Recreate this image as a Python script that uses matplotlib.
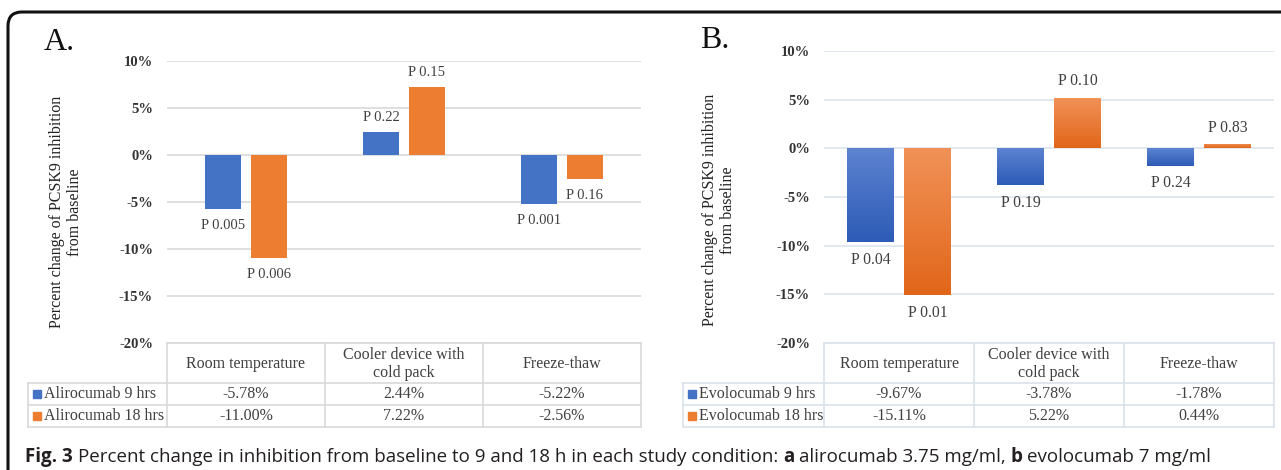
import matplotlib
matplotlib.use("Agg")
import matplotlib.pyplot as plt
import numpy as np
from matplotlib.patches import FancyBboxPatch
from matplotlib.transforms import IdentityTransform
from matplotlib.ticker import FuncFormatter

# data
conditions = ["Room temperature", "Cooler device with\ncold pack", "Freeze-thaw"]
aliro_9 = [-5.78, 2.44, -5.22]
aliro_18 = [-11.00, 7.22, -2.56]
aliro_p9 = ["P 0.005", "P 0.22", "P 0.001"]
aliro_p18 = ["P 0.006", "P 0.15", "P 0.16"]
evolo_9 = [-9.67, -3.78, -1.78]
evolo_18 = [-15.11, 5.22, 0.44]
evolo_p9 = ["P 0.04", "P 0.19", "P 0.24"]
evolo_p18 = ["P 0.01", "P 0.10", "P 0.83"]
series_a = ["Alirocumab 9 hrs", "Alirocumab 18 hrs"]
series_b = ["Evolocumab 9 hrs", "Evolocumab 18 hrs"]
yticks = [-20, -15, -10, -5, 0, 5, 10]
caption = [("Fig. 3", "bold"),
           ("Percent change in inhibition from baseline to 9 and 18 h in each study condition:", "normal"),
           ("a", "bold"), ("alirocumab 3.75 mg/ml,", "normal"),
           ("b", "bold"), ("evolocumab 7 mg/ml", "normal")]

plt.rcParams['font.family'] = ['Liberation Serif', 'DejaVu Serif']

W, H = 1281, 470
fig = plt.figure(figsize=(W / 100, H / 100), dpi=100)

BLUE = "#4472C4"
ORANGE = "#ED7D31"
TXT = "#404040"


def rect(x0, y0, x1, y1):
    # pixel box (top-left origin) -> figure fraction
    return [x0 / W, 1 - y1 / H, (x1 - x0) / W, (y1 - y0) / H]


def gradient_bars(ax, bars, top, bottom):
    c0 = np.array(matplotlib.colors.to_rgb(top))
    c1 = np.array(matplotlib.colors.to_rgb(bottom))
    grad = np.linspace(0, 1, 64)[:, None, None]
    img = c0 + (c1 - c0) * grad
    for b in bars:
        x, y = b.get_x(), b.get_y()
        w, h = b.get_width(), b.get_height()
        y0, y1 = min(y, y + h), max(y, y + h)
        im = ax.imshow(img, extent=[x, x + w, y0, y1], origin='upper',
                       aspect='auto', zorder=3)
        im.set_clip_path(b)
        b.set_facecolor('none')


def panel(x0, x1, ytop, s9, s18, p9, p18, width, off, grid_color, psize,
          gradient=False):
    ax = fig.add_axes(rect(x0, ytop, x1, 343))
    x = np.arange(len(conditions))
    b1 = ax.bar(x - off, s9, width, color=BLUE, zorder=3)
    b2 = ax.bar(x + off, s18, width, color=ORANGE, zorder=3)
    if gradient:
        gradient_bars(ax, b1, "#5d83d1", "#2d5bb6")
        gradient_bars(ax, b2, "#f19258", "#e1661a")
    for bars, vals, labs in ((b1, s9, p9), (b2, s18, p18)):
        for b, v, lab in zip(bars, vals, labs):
            xc = b.get_x() + b.get_width() / 2
            if v >= 0:
                ax.annotate(lab, (xc, v), xytext=(0, 6), textcoords='offset points',
                            ha='center', va='bottom', fontsize=psize, color=TXT)
            else:
                ax.annotate(lab, (xc, v), xytext=(0, -7), textcoords='offset points',
                            ha='center', va='top', fontsize=psize, color=TXT)
    ax.set_xlim(-0.5, 2.5)
    ax.set_ylim(-20, 10)
    ax.set_yticks(yticks)
    ax.yaxis.set_major_formatter(FuncFormatter(lambda v, _: f"{v:.0f}%"))
    ax.set_xticks([])
    ax.tick_params(axis='y', length=0, pad=10, labelsize=10.5, labelcolor='#333333')
    for t in ax.get_yticklabels():
        t.set_fontweight('bold')
    ax.grid(axis='y', color=grid_color, lw=1.2, zorder=0)
    for s in ax.spines.values():
        s.set_visible(False)
    return ax


def table(x0, x1, left, s9, s18, names, line_color):
    tax = fig.add_axes(rect(x0, 343, x1, 427))
    tax.set_xlim(-0.5, 2.5)
    tax.set_ylim(84, 0)
    tax.axis('off')
    u = 3 / (x1 - x0)
    xl = -0.5 - (x0 - left) * u
    kw = dict(color=line_color, lw=1.2, clip_on=False)
    tax.plot([-0.5, 2.5], [0, 0], **kw)
    for y in (40, 62, 84):
        tax.plot([xl, 2.5], [y, y], **kw)
    tax.plot([xl, xl], [40, 84], **kw)
    for xv in (-0.5, 0.5, 1.5, 2.5):
        tax.plot([xv, xv], [0, 84], **kw)
    for i, c in enumerate(conditions):
        tax.text(i, 21, c, ha='center', va='center', fontsize=11.5, color=TXT,
                 linespacing=1.15)
    for row, (vals, name, col) in enumerate(((s9, names[0], BLUE), (s18, names[1], ORANGE))):
        yc = 51 + 22 * row
        for i, v in enumerate(vals):
            tax.text(i, yc, f"{v:.2f}%", ha='center', va='center', fontsize=11.5, color=TXT)
        tax.plot([xl + 9 * u], [yc], marker='s', ms=5.8, color=col, clip_on=False)
        tax.text(xl + 16 * u, yc, name, ha='left', va='center', fontsize=11.5, color=TXT)


panel(167, 641, 61, aliro_9, aliro_18, aliro_p9, aliro_p18,
      0.23, 0.145, "#d9d9d9", 10.5)
table(167, 641, 28, aliro_9, aliro_18, series_a, "#d9d9d9")
panel(824, 1274, 51, evolo_9, evolo_18, evolo_p9, evolo_p18,
      0.307, 0.19, "#dde4ed", 11.3, gradient=True)
table(824, 1274, 683, evolo_9, evolo_18, series_b, "#dae1eb")

ylab = "Percent change of PCSK9 inhibition\nfrom baseline"
fig.text(66 / W, 1 - 212 / H, ylab, rotation=90, ha='center', va='center',
         multialignment='center', fontsize=11.5, color='#222222')
fig.text(719 / W, 1 - 210 / H, ylab, rotation=90, ha='center', va='center',
         multialignment='center', fontsize=11.5, color='#222222')
fig.text(44 / W, 1 - 43 / H, "A.", ha='left', va='center', fontsize=23, color='#111111')
fig.text(700 / W, 1 - 40 / H, "B.", ha='left', va='center', fontsize=23, color='#111111')

# caption: pieces of mixed weight laid out one after another
renderer = fig.canvas.get_renderer()
cap_kw = dict(fontsize=13.5, color='#231f20', family='Open Sans', va='center', ha='left')


def text_width(s, weight):
    t = fig.text(0, 0, s, fontweight=weight, **cap_kw)
    w = t.get_window_extent(renderer).width
    t.remove()
    return w


space = text_width("a a", "normal") - text_width("aa", "normal")
xpos = 25
for s, weight in caption:
    t = fig.text(xpos / W, 1 - 457 / H, s, fontweight=weight, **cap_kw)
    xpos += t.get_window_extent(renderer).width + space

# rounded frame around the figure
frame = FancyBboxPatch((8, -60), 1400, 458 + 60, boxstyle="round,pad=0,rounding_size=14",
                       transform=IdentityTransform(), fill=False, ec='#111111', lw=2.2)
fig.add_artist(frame)

fig.savefig("out.png", dpi=100)
